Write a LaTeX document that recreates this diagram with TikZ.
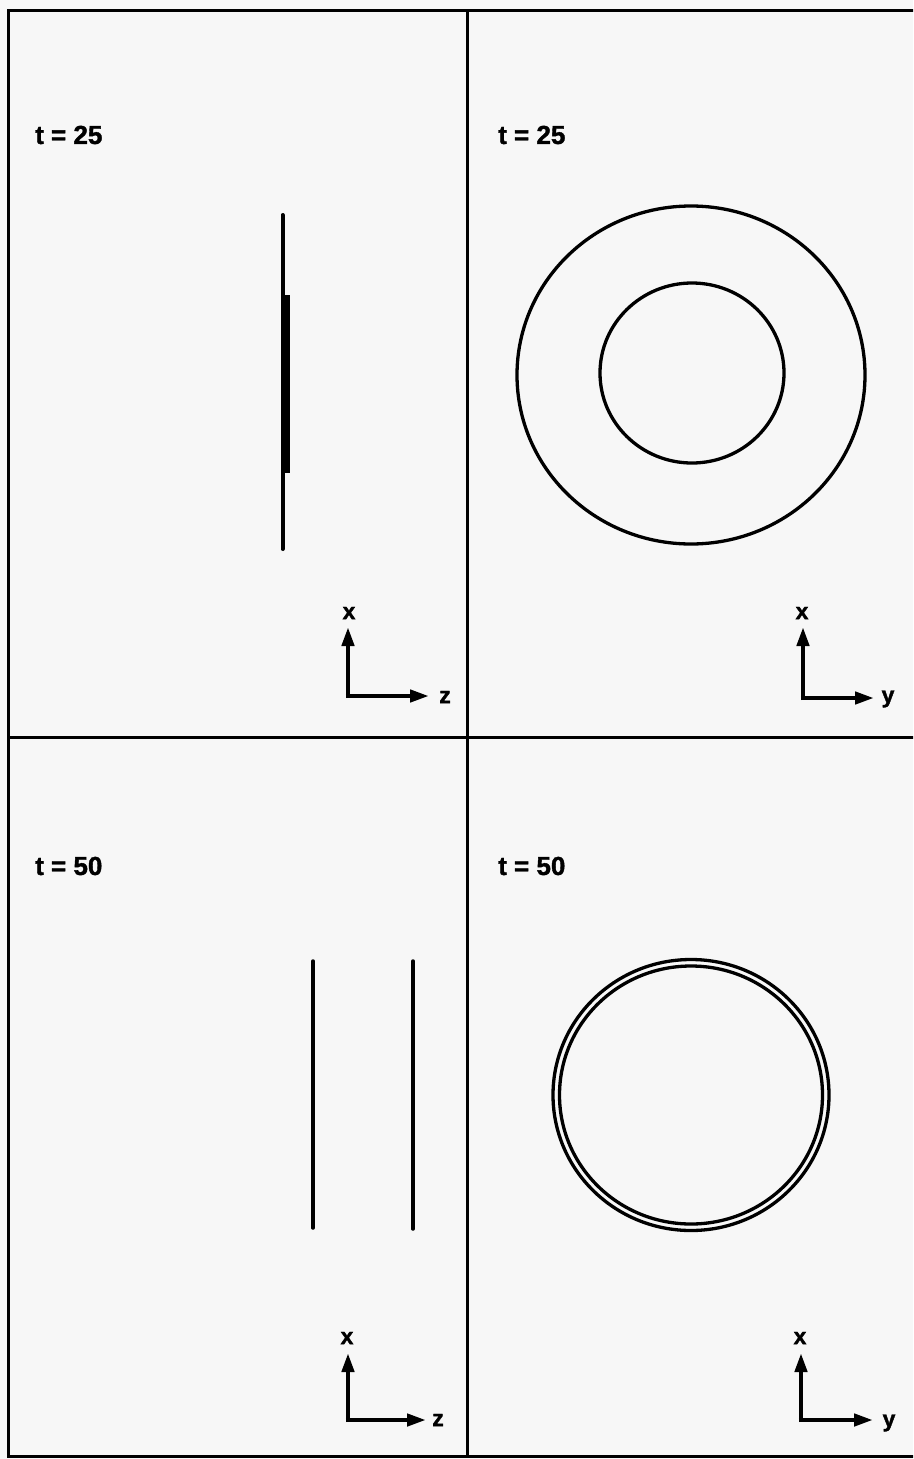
\documentclass[tikz,border=0pt]{standalone}
\usepackage{fontspec}
\setmainfont{Liberation Sans}[BoldFeatures={FakeBold=1.5}]
\usetikzlibrary{arrows.meta}
\begin{document}
\begin{tikzpicture}[x=1pt,y=-1pt,
  frameline/.style={line width=3pt},
  curve/.style={line width=3.3pt},
  axisarrow/.style={line width=4.3pt,-{Triangle[length=19pt,width=12pt]}},
  tlabel/.style={font=\fontsize{26}{26}\selectfont\bfseries,anchor=west,inner sep=0pt},
  axlabel/.style={font=\fontsize{23}{23}\selectfont\bfseries,inner sep=0pt}]
\useasboundingbox (0,0) rectangle (913,1459);
\fill[white!97!black] (0,0) rectangle (913,1459);
\begin{scope}
\clip (0,0) rectangle (913,1459);
\draw[frameline] (8,10) rectangle (916,1456);
\draw[frameline] (467,10) -- (467,1456);
\draw[frameline] (8,737) -- (916,737);
\end{scope}
% labels
\node[tlabel] (t1) at (35,135) {t = 25};
\node[tlabel] (t2) at (498,135) {t = 25};
\node[tlabel] (t3) at (35,866) {t = 50};
\node[tlabel] (t4) at (498,866) {t = 50};
% top-left: line
\draw[line width=4pt,line cap=round] (282.5,215) -- (282.5,549);
\fill (280.5,295) rectangle (290,473);
% top-right circles
\draw[curve] (691,375) ellipse [x radius=174, y radius=169];
\draw[curve] (692,373) ellipse [x radius=92, y radius=90];
% bottom-left lines
\draw[line width=3.5pt,line cap=round] (313,961) -- (313,1228);
\draw[line width=3.5pt,line cap=round] (413,961) -- (413,1229);
% bottom-right circles
\draw[curve] (691,1095) ellipse [x radius=138, y radius=135.5];
\draw[curve] (691,1095) ellipse [x radius=131.5, y radius=129];
% axes
\coordinate (o1) at (348,696);
\coordinate (o1x) at (348,627);
\coordinate (o1z) at (429,696);
\draw[axisarrow] ([yshift=-2.15pt]o1) -- (o1x);
\draw[axisarrow] ([xshift=-2.15pt]o1) -- (o1z);
\node[axlabel] (x1) at (349,613) {x};
\node[axlabel] (z1) at (445,697) {z};

\coordinate (o2) at (803,698);
\coordinate (o2x) at (803,627);
\coordinate (o2y) at (874,698);
\draw[axisarrow] ([yshift=-2.15pt]o2) -- (o2x);
\draw[axisarrow] ([xshift=-2.15pt]o2) -- (o2y);
\node[axlabel] (x2) at (802,613) {x};
\node[axlabel] (y2) at (888,699) {y};

\coordinate (o3) at (348,1420);
\coordinate (o3x) at (348,1353);
\coordinate (o3z) at (426,1420);
\draw[axisarrow] ([yshift=-2.15pt]o3) -- (o3x);
\draw[axisarrow] ([xshift=-2.15pt]o3) -- (o3z);
\node[axlabel] (x3) at (347,1338) {x};
\node[axlabel] (z3) at (438,1420) {z};

\coordinate (o4) at (801,1420);
\coordinate (o4x) at (801,1353);
\coordinate (o4y) at (873,1420);
\draw[axisarrow] ([yshift=-2.15pt]o4) -- (o4x);
\draw[axisarrow] ([xshift=-2.15pt]o4) -- (o4y);
\node[axlabel] (x4) at (800,1338) {x};
\node[axlabel] (y4) at (889,1423) {y};
\end{tikzpicture}
\end{document}
